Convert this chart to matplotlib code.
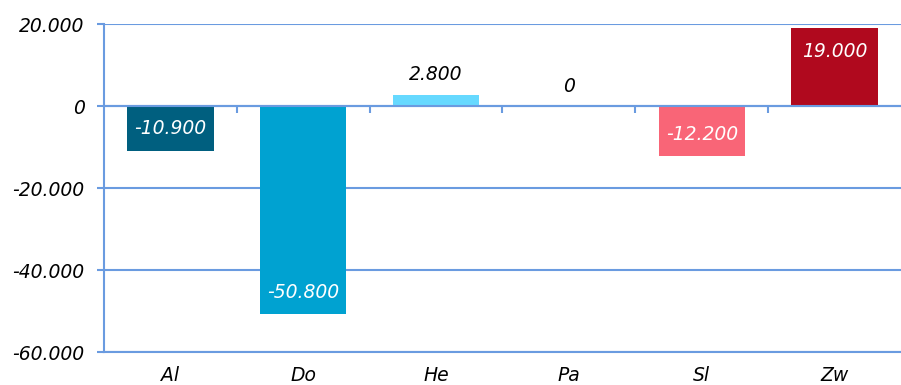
import matplotlib
matplotlib.use("Agg")
import matplotlib.pyplot as plt
from matplotlib.ticker import FuncFormatter

categories = ["Al", "Do", "He", "Pa", "Sl", "Zw"]
values = [-10900, -50800, 2800, 0, -12200, 19000]
bar_colors = ["#005F7F", "#00A2D1", "#66D9FF", "#66D9FF", "#F96577", "#B0091E"]
y_ticks = [-60000, -40000, -20000, 0, 20000]

LINE = "#6A9BE0"
FS = 13.5

def de_fmt(v, pos=None):
    return f"{int(round(v)):,}".replace(",", ".")

fig = plt.figure(figsize=(9.01, 3.85), dpi=100)
ax = fig.add_axes([104 / 901, 1 - 352 / 385, 1 - 104 / 901, (352 - 24) / 385])

x = list(range(len(categories)))
ax.bar(x, values, width=0.65, color=bar_colors, zorder=2)

y0, y1 = y_ticks[0], y_ticks[-1]
ax.set_ylim(y0, y1)
ax.set_xlim(-0.5, len(categories) - 0.5)

# horizontal gridlines behind the bars, zero line in front
for t in y_ticks:
    ax.axhline(t, color=LINE, lw=1.5, zorder=1)
ax.axhline(0, color=LINE, lw=1.5, zorder=3)

for s in ["top", "right"]:
    ax.spines[s].set_visible(False)
for s in ["left", "bottom"]:
    ax.spines[s].set_color(LINE)
    ax.spines[s].set_linewidth(1.5)

ax.set_yticks(y_ticks)
ax.yaxis.set_major_formatter(FuncFormatter(de_fmt))
ax.tick_params(axis="y", colors=LINE, length=5, width=1.5, pad=9)
for lab in ax.get_yticklabels():
    lab.set_color("black")
    lab.set_fontsize(FS)
    lab.set_fontstyle("italic")

ax.set_xticks(x)
ax.set_xticklabels(categories, fontsize=FS, fontstyle="italic")
ax.tick_params(axis="x", length=0, pad=10)

# category boundary ticks on the zero line
zero_frac = (0 - y0) / (y1 - y0)
sec = ax.secondary_xaxis(zero_frac)
sec.set_xticks([i + 0.5 for i in x[:-1]])
sec.tick_params(axis="x", direction="out", length=5, width=1.5, colors=LINE,
                labelbottom=False, labeltop=False)
sec.xaxis.set_ticks_position("bottom")
sec.spines["bottom"].set_visible(False)
sec.spines["top"].set_visible(False)
sec.set_xticklabels([])

# value labels: inside the bar end when the bar is tall enough, above it otherwise
span = abs(y1 - y0)
for xi, v in zip(x, values):
    txt = de_fmt(v)
    if abs(v) / span > 0.08:
        off = -23 if v > 0 else 22
        ax.annotate(txt, (xi, v), xytext=(0, off), textcoords="offset pixels",
                    ha="center", va="center", color="white", fontsize=FS,
                    fontstyle="italic", zorder=4)
    else:
        ax.annotate(txt, (xi, max(v, 0)), xytext=(0, 20), textcoords="offset pixels",
                    ha="center", va="center", color="black", fontsize=FS,
                    fontstyle="italic", zorder=4)

fig.savefig("out.png", dpi=100)
